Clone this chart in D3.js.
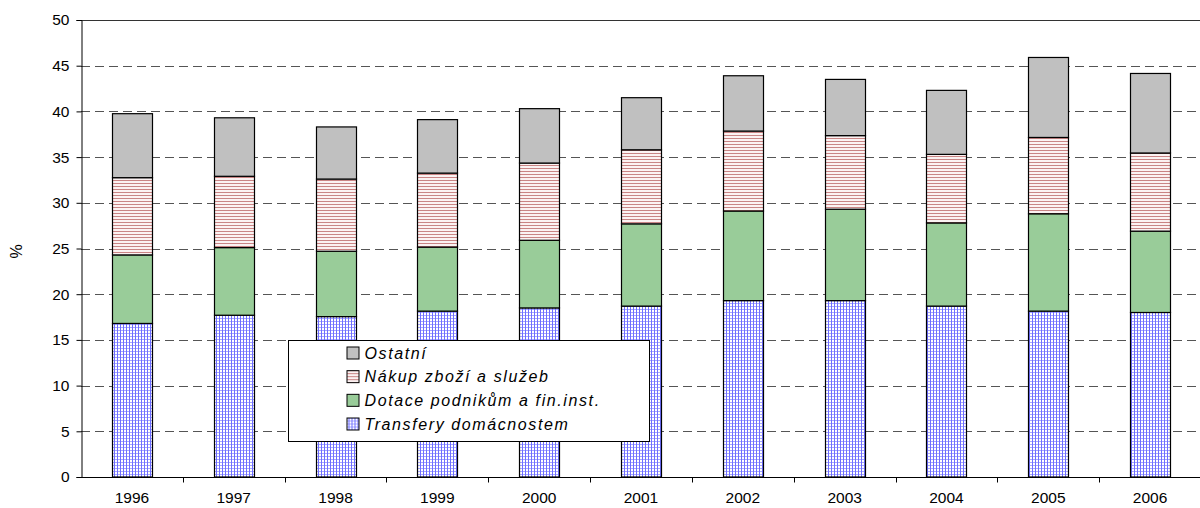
<!DOCTYPE html>
<html>
<head>
<meta charset="utf-8">
<script src="https://cdn.jsdelivr.net/npm/d3@7"></script>
<style>
  body { margin: 0; background: #fff; }
  svg { display: block; font-family: "Liberation Sans", Arial, sans-serif; }
</style>
</head>
<body>
<svg id="chart" width="1200" height="508"></svg>
<script>
const years = ['1996', '1997', '1998', '1999', '2000', '2001', '2002', '2003', '2004', '2005', '2006'];

// stacked from the bottom up
const transfery = [16.8, 17.7, 17.55, 18.15, 18.5, 18.7, 19.3, 19.3, 18.7, 18.15, 18.0];
const dotace = [7.5, 7.4, 7.15, 7.0, 7.4, 9.0, 9.8, 10.0, 9.1, 10.65, 8.9];
const nakup = [8.45, 7.8, 7.9, 8.1, 8.45, 8.1, 8.75, 8.05, 7.5, 8.35, 8.55];
const ostatni = [7.0, 6.4, 5.7, 5.85, 5.95, 5.7, 6.05, 6.15, 7.0, 8.75, 8.7];

const seriesKeys = ['transfery', 'dotace', 'nakup', 'ostatni'];
const seriesNames = {
    transfery: 'Transfery domácnostem',
    dotace: 'Dotace podnikům a fin.inst.',
    nakup: 'Nákup zboží a služeb',
    ostatni: 'Ostatní'
};
const yTicks = [0, 5, 10, 15, 20, 25, 30, 35, 40, 45, 50];

const table = years.map((y, i) => ({
    year: y,
    transfery: transfery[i],
    dotace: dotace[i],
    nakup: nakup[i],
    ostatni: ostatni[i]
}));

const margin = {top: 20, left: 81, right: -1, bottom: 31};
const width = 1200, height = 508;
const labelSize = 15.5;

const svg = d3.select('#chart');

// fill patterns
const defs = svg.append('defs');

const pink = defs.append('pattern')
    .attr('id', 'pat-nakup')
    .attr('patternUnits', 'userSpaceOnUse')
    .attr('width', 4).attr('height', 3);
pink.append('rect').attr('width', 4).attr('height', 3).attr('fill', '#fbf2f2');
pink.append('rect').attr('y', 0).attr('width', 4).attr('height', 1).attr('fill', '#c98585');

const blue = defs.append('pattern')
    .attr('id', 'pat-transfery')
    .attr('patternUnits', 'userSpaceOnUse')
    .attr('width', 3).attr('height', 3);
blue.append('rect').attr('width', 3).attr('height', 3).attr('fill', '#fff');
blue.append('rect').attr('y', 0).attr('width', 3).attr('height', 1).attr('fill', '#a6a6ff');
blue.append('rect').attr('x', 0).attr('width', 1).attr('height', 3).attr('fill', '#6f6fff');

const fills = {
    transfery: 'url(#pat-transfery)',
    dotace: '#99cc99',
    nakup: 'url(#pat-nakup)',
    ostatni: '#c0c0c0'
};

const x = d3.scaleBand()
    .domain(years)
    .range([margin.left, width - margin.right])
    .padding(0);

const y = d3.scaleLinear()
    .domain([0, 50])
    .range([height - margin.bottom, margin.top]);

// gridlines
svg.append('g')
    .selectAll('line')
    .data(yTicks.filter(t => t > 0 && t < 50))
    .join('line')
    .attr('x1', margin.left)
    .attr('x2', width)
    .attr('y1', d => Math.round(y(d)) + 0.5)
    .attr('y2', d => Math.round(y(d)) + 0.5)
    .attr('stroke', '#555')
    .attr('stroke-dasharray', '9,5');

// top border of plot
svg.append('line')
    .attr('x1', margin.left).attr('x2', width)
    .attr('y1', Math.round(y(50)) + 0.5).attr('y2', Math.round(y(50)) + 0.5)
    .attr('stroke', '#333');

// stacked bars
const stacked = d3.stack().keys(seriesKeys)(table);
const barW = 40;

svg.append('g')
    .selectAll('g')
    .data(stacked)
    .join('g')
    .attr('fill', d => fills[d.key])
    .selectAll('rect')
    .data(d => d)
    .join('rect')
    .attr('x', d => Math.round(x(d.data.year) + x.bandwidth() / 2 - barW / 2) + 0.5)
    .attr('y', d => y(d[1]))
    .attr('width', barW)
    .attr('height', d => y(d[0]) - y(d[1]))
    .attr('stroke', '#000')
    .attr('stroke-width', 1.2);

// y axis
const yAxis = svg.append('g')
    .attr('transform', `translate(${margin.left + 0.5},0)`)
    .call(d3.axisLeft(y).tickValues(yTicks).tickSize(5).tickPadding(7));
yAxis.select('.domain').attr('stroke', '#000');
yAxis.selectAll('.tick line').attr('stroke', '#000');
yAxis.selectAll('.tick text')
    .attr('font-size', labelSize)
    .attr('fill', '#000')
    .attr('font-family', '"Liberation Sans", Arial, sans-serif');

// x axis: ticks sit between categories
const xAxisG = svg.append('g')
    .attr('transform', `translate(0,${Math.round(y(0)) + 0.5})`);
xAxisG.append('line')
    .attr('x1', margin.left).attr('x2', width)
    .attr('stroke', '#000');
xAxisG.selectAll('line.tick')
    .data(years.slice(1))
    .join('line')
    .attr('class', 'tick')
    .attr('x1', d => Math.round(x(d)) + 0.5)
    .attr('x2', d => Math.round(x(d)) + 0.5)
    .attr('y1', 0).attr('y2', 5)
    .attr('stroke', '#000');
xAxisG.selectAll('text')
    .data(years)
    .join('text')
    .attr('x', d => x(d) + x.bandwidth() / 2)
    .attr('y', 25)
    .attr('text-anchor', 'middle')
    .attr('font-size', labelSize)
    .text(d => d);

// y title
svg.append('text')
    .attr('transform', `translate(22,${y(25) + 3}) rotate(-90)`)
    .attr('text-anchor', 'middle')
    .attr('font-size', 16)
    .text('%');

// legend
const legend = svg.append('g').attr('transform', 'translate(288.5,340.5)');
legend.append('rect')
    .attr('width', 361).attr('height', 101)
    .attr('fill', '#fff').attr('stroke', '#000');

const legendOrder = ['ostatni', 'nakup', 'dotace', 'transfery'];
const rowY = d3.scalePoint().domain(legendOrder).range([12, 83]);

const rows = legend.selectAll('g.row')
    .data(legendOrder)
    .join('g')
    .attr('class', 'row')
    .attr('transform', d => `translate(0,${rowY(d)})`);
rows.append('rect')
    .attr('x', 58.5).attr('y', -5.5)
    .attr('width', 12).attr('height', 12)
    .attr('fill', d => fills[d])
    .attr('stroke', '#000');
rows.append('text')
    .attr('x', 76)
    .attr('y', 6)
    .attr('font-size', 16)
    .attr('font-style', 'italic')
    .attr('letter-spacing', 1.6)
    .text(d => seriesNames[d]);
</script>
</body>
</html>
